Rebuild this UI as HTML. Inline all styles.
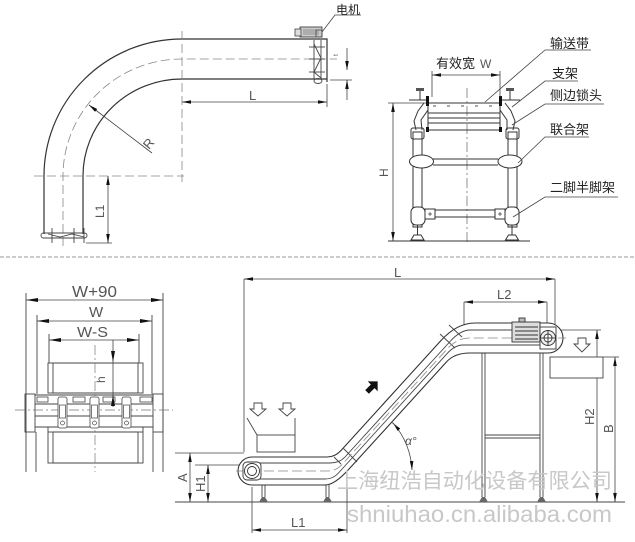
<!DOCTYPE html>
<html><head><meta charset="utf-8">
<style>
html,body{margin:0;padding:0;background:#fff;}
svg{display:block;}
text{font-family:"Liberation Sans","Noto Sans CJK SC",sans-serif;}
</style></head><body>
<svg width="635" height="542" viewBox="0 0 635 542" xmlns="http://www.w3.org/2000/svg">
<defs>
<marker id="ar" viewBox="0 0 10 4" refX="10" refY="2" markerWidth="9" markerHeight="3.6" markerUnits="userSpaceOnUse" orient="auto-start-reverse"><path d="M0,0L10,2L0,4z" fill="#111"/></marker>
<marker id="ar2" viewBox="0 0 12 4" refX="12" refY="2" markerWidth="12" markerHeight="4" markerUnits="userSpaceOnUse" orient="auto-start-reverse"><path d="M0,0L12,2L0,4z" fill="#111"/></marker>
</defs>
<rect width="635" height="542" fill="#fff"/>

<!-- ================= TOP LEFT: curved conveyor plan ================= -->
<g fill="none" stroke="#333" stroke-width="1.2">
<path d="M44,234 V176 A138,137 0 0 1 182,39 H327 V82"/>
<path d="M83,234 V176 A99,97 0 0 1 182,79 H327"/>
</g>
<g fill="none" stroke="#888" stroke-width="0.8" stroke-dasharray="9,4">
<path d="M63,246 V176 A119,117 0 0 1 182,59 H337"/>
<path d="M182,31 V182"/>
<path d="M34,176 H184"/>
</g>
<!-- right end clamp -->
<g fill="none" stroke="#444" stroke-width="0.9">
<line x1="314" y1="40" x2="314" y2="79"/>
<line x1="321" y1="40" x2="321" y2="79"/>
<polyline points="314,44 321,58 314,72 321,78"/>
<line x1="309" y1="47" x2="325" y2="47"/>
<line x1="309" y1="59" x2="325" y2="59"/>
<line x1="309" y1="72" x2="325" y2="72"/>
<ellipse cx="318" cy="81" rx="4" ry="2.5"/>
</g>
<!-- motor -->
<rect x="300" y="27" width="22" height="10" fill="#ccc" stroke="#444" stroke-width="0.9"/>
<rect x="295" y="29" width="6" height="7" fill="#ddd" stroke="#444" stroke-width="0.8"/>
<g stroke="#666" stroke-width="0.6"><line x1="303" y1="30" x2="319" y2="30"/><line x1="303" y1="32" x2="319" y2="32"/><line x1="303" y1="34" x2="319" y2="34"/></g>
<rect x="316" y="30" width="6" height="7" fill="none" stroke="#444" stroke-width="0.8"/>
<polyline points="322,32 335,15 361,15" fill="none" stroke="#444" stroke-width="0.8"/>
<text x="336" y="14" font-size="12" fill="#222">电机</text>
<!-- left bottom clamp -->
<g fill="none" stroke="#444" stroke-width="0.9">
<rect x="41" y="233" width="46" height="5" rx="2.5"/>
<line x1="52" y1="228" x2="52" y2="243"/>
<line x1="74" y1="228" x2="74" y2="243"/>
<line x1="84" y1="228" x2="84" y2="243"/>
<polyline points="48,234 60,237 72,234 84,237"/>
</g>
<!-- dimensions top-left -->
<g stroke="#444" stroke-width="0.8" fill="none">
<line x1="182" y1="102" x2="327" y2="102" marker-start="url(#ar)" marker-end="url(#ar)"/>
<line x1="327" y1="84" x2="327" y2="107"/>
<line x1="347" y1="48" x2="347" y2="70" marker-end="url(#ar)"/>
<line x1="347" y1="100" x2="347" y2="80" marker-end="url(#ar)"/>
<line x1="330" y1="80" x2="352" y2="80"/>
<line x1="108" y1="176" x2="108" y2="243" marker-start="url(#ar)" marker-end="url(#ar)"/>
<line x1="86" y1="243" x2="112" y2="243"/>
<line x1="152" y1="153" x2="89" y2="105" marker-end="url(#ar)"/>
</g>
<text x="249" y="100" font-size="13" fill="#555">L</text>
<text x="0" y="0" font-size="7" fill="#666" transform="translate(338,56) rotate(-90)">t</text>
<text x="0" y="0" font-size="13" fill="#555" transform="translate(149,150) rotate(-50)">R</text>
<text x="0" y="0" font-size="12" fill="#555" transform="translate(104,218) rotate(-90)">L1</text>

<!-- ================= TOP RIGHT: cross section frame ================= -->
<line x1="467" y1="88" x2="467" y2="243" stroke="#777" stroke-width="0.8" stroke-dasharray="10,3,2,3"/>
<g fill="none" stroke="#333" stroke-width="1">
<line x1="428" y1="103" x2="500" y2="103"/>
<line x1="428" y1="113" x2="500" y2="113"/>
<line x1="428" y1="118" x2="500" y2="118"/>
<line x1="428" y1="123" x2="500" y2="123"/>
<line x1="428" y1="130" x2="500" y2="130"/>
<line x1="428" y1="96" x2="428" y2="132"/>
<line x1="500" y1="96" x2="500" y2="132"/>
<line x1="433" y1="106" x2="496" y2="106" stroke-dasharray="3,11" stroke="#555"/>
<!-- handles -->
<line x1="409" y1="100" x2="428" y2="100"/>
<line x1="420" y1="91" x2="420" y2="100"/>
<line x1="500" y1="100" x2="520" y2="100"/>
<line x1="510" y1="91" x2="510" y2="100"/>
<!-- brackets -->
<path d="M424,103 L418,111 L414,121 L416,130"/>
<path d="M428,110 L421,120 L422,130"/>
<path d="M505,103 L511,111 L515,121 L513,130"/>
<path d="M500,110 L507,120 L507,130"/>
<!-- posts -->
<rect x="413" y="132" width="9" height="95"/>
<rect x="508" y="132" width="9" height="95"/>
<rect x="411" y="128" width="13" height="11" rx="2"/>
<rect x="506" y="128" width="13" height="11" rx="2"/>
<!-- upper crossbar -->
<line x1="433" y1="159" x2="498" y2="159"/>
<line x1="433" y1="165" x2="498" y2="165"/>
<ellipse cx="421.5" cy="161.5" rx="12" ry="6.5" fill="#fff"/>
<ellipse cx="510" cy="161.5" rx="12" ry="6.5" fill="#fff"/>
<!-- lower crossbar -->
<rect x="435" y="210" width="60" height="7"/>
<rect x="411" y="207" width="14" height="18" rx="5" fill="#fff"/>
<rect x="425" y="209" width="10" height="10"/>
<rect x="505" y="207" width="14" height="18" rx="5" fill="#fff"/>
<rect x="495" y="209" width="10" height="10"/>
<!-- feet -->
<line x1="417.5" y1="225" x2="417.5" y2="235"/>
<line x1="512" y1="225" x2="512" y2="235"/>
<path d="M411,240 L424,240 L421,235 L414,235 Z"/>
<path d="M505.5,240 L518.5,240 L515.5,235 L508.5,235 Z"/>
<line x1="388" y1="241" x2="530" y2="241"/>
</g>
<rect x="426" y="96" width="3" height="10" fill="#111"/>
<rect x="499" y="96" width="3" height="10" fill="#111"/>
<rect x="426" y="127" width="3" height="5" fill="#111"/>
<rect x="499" y="127" width="3" height="5" fill="#111"/>
<rect x="416" y="88" width="8" height="3" fill="#555"/>
<rect x="506" y="88" width="8" height="3" fill="#555"/>
<g stroke="#333" stroke-width="0.7"><line x1="428" y1="214" x2="432" y2="214"/><line x1="430" y1="212" x2="430" y2="216"/><line x1="498" y1="214" x2="502" y2="214"/><line x1="500" y1="212" x2="500" y2="216"/></g>
<!-- dims -->
<g stroke="#444" stroke-width="0.8" fill="none">
<line x1="432" y1="75" x2="500" y2="75" marker-start="url(#ar)" marker-end="url(#ar)"/>
<line x1="432" y1="71" x2="432" y2="97"/>
<line x1="500" y1="71" x2="500" y2="97"/>
<line x1="393" y1="103" x2="393" y2="241" marker-start="url(#ar)" marker-end="url(#ar)"/>
<line x1="388" y1="103" x2="426" y2="103"/>
</g>
<text x="436" y="68" font-size="13" fill="#222">有效宽</text>
<text x="480" y="68" font-size="12" fill="#555">W</text>
<text x="0" y="0" font-size="12" fill="#555" transform="translate(388,177) rotate(-90)">H</text>
<!-- labels -->
<g fill="none" stroke="#444" stroke-width="0.8">
<polyline points="485,102 545,50 591,50"/>
<polyline points="512,107 545,81 578,81"/>
<polyline points="512,125 545,104 604,104"/>
<polyline points="518,163 545,137 589,137"/>
<polyline points="513,217 545,197 618,197"/>
</g>
<g font-size="13" fill="#222">
<text x="550" y="48">输送带</text>
<text x="552" y="78">支架</text>
<text x="550" y="100">侧边锁头</text>
<text x="550" y="134">联合架</text>
<text x="550" y="192">二脚半脚架</text>
</g>

<!-- separator -->
<line x1="0" y1="257" x2="635" y2="257" stroke="#999" stroke-width="1" stroke-dasharray="4,2"/>

<!-- ================= BOTTOM LEFT: section ================= -->
<g fill="none" stroke="#444" stroke-width="0.9">
<line x1="26" y1="293" x2="26" y2="472"/>
<line x1="163" y1="293" x2="163" y2="472"/>
<line x1="37" y1="315" x2="37" y2="394"/>
<line x1="152" y1="315" x2="152" y2="394"/>
<line x1="36" y1="432" x2="36" y2="472"/>
<line x1="153" y1="432" x2="153" y2="472"/>
<line x1="49" y1="334" x2="49" y2="363"/>
<line x1="139" y1="334" x2="139" y2="363"/>
<rect x="48" y="363" width="95" height="30"/>
<rect x="53" y="363" width="85" height="30"/>
<rect x="48" y="432" width="95" height="31"/>
<rect x="53" y="432" width="85" height="31"/>
<rect x="25" y="394" width="10" height="38"/>
<rect x="153" y="394" width="10" height="38"/>
<line x1="35" y1="395" x2="153" y2="395"/>
<line x1="35" y1="404" x2="153" y2="404"/>
<line x1="35" y1="416" x2="153" y2="416"/>
<line x1="35" y1="427" x2="153" y2="427"/>
<polyline points="35,427 48,427 48,432"/>
<polyline points="153,427 143,427 143,432"/>
</g>
<line x1="95" y1="345" x2="95" y2="472" stroke="#777" stroke-width="0.7" stroke-dasharray="10,3,2,3"/>
<line x1="15" y1="410" x2="173" y2="410" stroke="#777" stroke-width="0.7" stroke-dasharray="10,3,2,3"/>
<g fill="#fff" stroke="#444" stroke-width="0.8">
<rect x="37" y="397" width="11" height="5"/>
<rect x="73" y="397" width="12" height="5"/>
<rect x="103" y="397" width="12" height="5"/>
<rect x="140" y="397" width="12" height="5"/>
<rect x="58" y="397" width="9" height="31" rx="2"/>
<rect x="90" y="397" width="9" height="31" rx="2"/>
<rect x="122" y="397" width="9" height="31" rx="2"/>
</g>
<g fill="none" stroke="#444" stroke-width="0.7">
<rect x="59.5" y="405" width="6" height="13"/><rect x="91.5" y="405" width="6" height="13"/><rect x="123.5" y="405" width="6" height="13"/>
<circle cx="62.5" cy="423" r="2"/><circle cx="94.5" cy="423" r="2"/><circle cx="126.5" cy="423" r="2"/>
</g>
<g stroke="#444" stroke-width="0.8" fill="none">
<line x1="26" y1="300" x2="163" y2="300" marker-start="url(#ar2)" marker-end="url(#ar2)"/>
<line x1="37" y1="321" x2="152" y2="321" marker-start="url(#ar2)" marker-end="url(#ar2)"/>
<line x1="49" y1="340" x2="139" y2="340" marker-start="url(#ar2)" marker-end="url(#ar2)"/>
<line x1="113" y1="340" x2="113" y2="407"/>
</g>
<path d="M111,351 L115,351 L113,362 Z" fill="#111"/>
<path d="M111,406 L115,406 L113,395 Z" fill="#111"/>
<text x="72" y="297" font-size="16" fill="#555" textLength="45" lengthAdjust="spacingAndGlyphs">W+90</text>
<text x="89" y="317" font-size="15" fill="#555">W</text>
<text x="77" y="337" font-size="15" fill="#555" textLength="31" lengthAdjust="spacingAndGlyphs">W-S</text>
<text x="0" y="0" font-size="12" fill="#555" transform="translate(105,383) rotate(-90)">h</text>

<!-- ================= BOTTOM RIGHT: incline conveyor ================= -->
<g fill="none" stroke="#444" stroke-width="0.8">
<line x1="244" y1="279" x2="244" y2="452"/>
<line x1="555" y1="279" x2="555" y2="330"/>
<line x1="244" y1="279" x2="555" y2="279" marker-start="url(#ar)" marker-end="url(#ar)"/>
<line x1="464" y1="302" x2="464" y2="326"/>
<line x1="547" y1="302" x2="547" y2="330"/>
<line x1="464" y1="302" x2="547" y2="302" marker-start="url(#ar)" marker-end="url(#ar)"/>
<line x1="557" y1="330" x2="601" y2="330"/>
<line x1="603" y1="357" x2="619" y2="357"/>
<line x1="597" y1="330" x2="597" y2="502" marker-start="url(#ar)" marker-end="url(#ar)"/>
<line x1="615" y1="357" x2="615" y2="502" marker-start="url(#ar)" marker-end="url(#ar)"/>
<line x1="175" y1="453" x2="244" y2="453"/>
<line x1="195" y1="465" x2="240" y2="465"/>
<line x1="190" y1="453" x2="190" y2="502" marker-start="url(#ar)" marker-end="url(#ar)"/>
<line x1="208" y1="465" x2="208" y2="502" marker-start="url(#ar)" marker-end="url(#ar)"/>
<line x1="252" y1="487" x2="252" y2="533"/>
<line x1="347" y1="465" x2="347" y2="533"/>
<line x1="252" y1="530" x2="347" y2="530" marker-start="url(#ar)" marker-end="url(#ar)"/>
<path d="M393,423 A76,76 0 0 1 412,470" marker-start="url(#ar)" marker-end="url(#ar)"/>
<line x1="387" y1="418" x2="397" y2="427"/>
</g>
<line x1="175" y1="502" x2="625" y2="502" stroke="#444" stroke-width="0.9"/>

<!-- frame legs -->
<g fill="none" stroke="#444" stroke-width="0.9">
<line x1="482" y1="353" x2="482" y2="497"/>
<line x1="485" y1="353" x2="485" y2="497"/>
<line x1="540" y1="346" x2="540" y2="497"/>
<line x1="543" y1="350" x2="543" y2="497"/>
<line x1="485" y1="435" x2="540" y2="435"/>
<line x1="485" y1="438" x2="540" y2="438"/>
<line x1="262" y1="485" x2="262" y2="497"/>
<line x1="265" y1="485" x2="265" y2="497"/>
<line x1="326" y1="485" x2="326" y2="497"/>
<line x1="329" y1="485" x2="329" y2="497"/>
</g>
<g fill="#666">
<path d="M479,502 L488,502 L485,497 L482,497Z"/>
<path d="M537,502 L546,502 L543,497 L540,497Z"/>
<path d="M259,502 L268,502 L265,497 L262,497Z"/>
<path d="M323,502 L332,502 L329,497 L326,497Z"/>
</g>

<!-- conveyor band -->
<path d="M252,457 H327 Q335,457 341,450.5 L441,340.5 Q457,323 475,323 H548 A15,15 0 0 1 548,353 H470 Q454.5,353 446.4,362 L348.6,469.5 Q334.5,485 325,485 H252 A14,14 0 0 1 252,457 Z" fill="#fff" stroke="#333" stroke-width="1.1"/>
<g fill="none" stroke="#444" stroke-width="0.9">
<path d="M252,463 H330 Q339.5,463 345,457 L450,341.5 Q460.5,330 470,330 H548"/>
<path d="M252,479 H325 Q333,479 338,473.5 L447,353.7 Q454.8,345 463,345 H548"/>
<line x1="343" y1="448" x2="357" y2="462"/>
<line x1="334" y1="457" x2="341" y2="464"/>
<line x1="440" y1="334" x2="455" y2="348"/>
<line x1="449" y1="325" x2="462" y2="337"/>
</g>
<path d="M236,471 H328 Q336,471 342,464.5 L449,347 Q458,338 470,338 H566" fill="none" stroke="#888" stroke-width="0.8" stroke-dasharray="10,4"/>
<!-- sprocket left -->
<g fill="#fff" stroke="#333" stroke-width="0.9">
<rect x="243" y="462" width="18" height="18" rx="4"/>
<circle cx="252" cy="471" r="7.5"/>
<circle cx="252" cy="471" r="4.5"/>
</g>
<!-- motor & gear -->
<g stroke="#333" stroke-width="0.9">
<rect x="512" y="322" width="28" height="20" fill="#ddd"/>
<rect x="519" y="318" width="6" height="4" fill="#bbb"/>
<line x1="515" y1="327" x2="538" y2="327"/>
<line x1="515" y1="331" x2="538" y2="331"/>
<line x1="515" y1="335" x2="538" y2="335"/>
<line x1="515" y1="339" x2="538" y2="339"/>
<rect x="540" y="327" width="16" height="22" fill="#fff"/>
<circle cx="548" cy="338" r="7.5" fill="#eee"/>
<circle cx="548" cy="338" r="4" fill="#fff"/>
<line x1="541" y1="338" x2="555" y2="338"/>
<line x1="548" y1="331" x2="548" y2="345"/>
</g>
<!-- output box & arrows -->
<rect x="550" y="357" width="53" height="21" fill="#fff" stroke="#444" stroke-width="0.9"/>
<g fill="#fff" stroke="#444" stroke-width="0.9">
<polygon points="578,338 586,338 586,344 590,344 582,352 574,344 578,344"/>
<polygon points="254,403 262,403 262,409 266,409 258,416 250,409 254,409"/>
<polygon points="283,403 291,403 291,409 295,409 287,416 279,409 283,409"/>
</g>
<!-- hopper -->
<g fill="none" stroke="#444" stroke-width="0.9">
<rect x="257" y="435" width="38" height="17"/>
<line x1="247" y1="418" x2="257" y2="435"/>
<line x1="295" y1="418" x2="295" y2="435"/>
</g>
<!-- black flow arrow -->
<polygon points="0,-8 7,-1 2.6,-1 2.6,7 -2.6,7 -2.6,-1 -7,-1" fill="#111" transform="translate(372,387) rotate(45)"/>

<!-- labels -->
<g font-size="13" fill="#555">
<text x="394" y="277">L</text>
<text x="497" y="299">L2</text>
<text x="291" y="527">L1</text>
<text x="0" y="0" transform="translate(187,482) rotate(-90)">A</text>
<text x="0" y="0" transform="translate(205,492) rotate(-90)">H1</text>
<text x="0" y="0" transform="translate(594,425) rotate(-90)">H2</text>
<text x="0" y="0" transform="translate(613,433) rotate(-90)">B</text>
<text x="405" y="445" font-size="12" font-style="italic">α°</text>
</g>

<!-- watermark -->
<text x="337" y="488" font-size="21" fill="#c8c8c8" textLength="275" lengthAdjust="spacingAndGlyphs">上海纽浩自动化设备有限公司</text>
<text x="347" y="522" font-size="23" fill="#c8c8c8" textLength="265" lengthAdjust="spacingAndGlyphs">shniuhao.cn.alibaba.com</text>
</svg>
</body></html>
